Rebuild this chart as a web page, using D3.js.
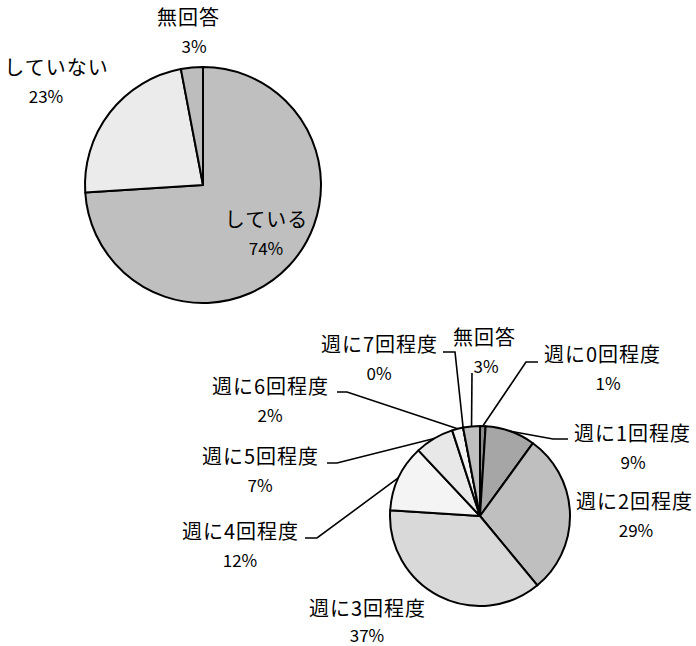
<!DOCTYPE html>
<html>
<head>
<meta charset="utf-8">
<script src="https://cdn.jsdelivr.net/npm/d3@7"></script>
<style>
  html, body { margin: 0; padding: 0; background: #fff; }
  svg { display: block; }
  text { font-family: "Noto Sans CJK JP", sans-serif; fill: #000; }
</style>
</head>
<body>
<svg id="chart" width="696" height="646"></svg>
<script>
// Top pie: whether the respondent does it
const topCategories = ["している", "していない", "無回答"];
const topValues = [74, 23, 3];
const topColors = ["#bfbfbf", "#ebebeb", "#bdbdbd"];

// Bottom pie: how many times per week
const bottomCategories = ["週に0回程度", "週に1回程度", "週に2回程度", "週に3回程度",
  "週に4回程度", "週に5回程度", "週に6回程度", "週に7回程度", "無回答"];
const bottomValues = [1, 9, 29, 37, 12, 7, 2, 0, 3];
const bottomColors = ["#8c8c8c", "#a6a6a6", "#bfbfbf", "#d9d9d9",
  "#f4f4f4", "#e8e8e8", "#f2f2f2", "#ffffff", "#bfbfbf"];

const svg = d3.select("#chart");
const pie = d3.pie().sort(null).value(d => d.value);

function drawPie(cfg) {
  const data = cfg.categories.map((c, i) => ({ name: c, value: cfg.values[i], color: cfg.colors[i] }));
  const arcs = pie(data);
  const g = svg.append("g").attr("transform", `translate(${cfg.cx},${cfg.cy})`);
  const arc = d3.arc().innerRadius(0).outerRadius(cfg.r);
  g.selectAll("path").data(arcs).join("path")
    .attr("d", arc)
    .attr("fill", d => d.data.color)
    .attr("stroke", "#000")
    .attr("stroke-width", 2)
    .attr("stroke-linejoin", "round");

  // Leader lines start on the rim at each slice's middle angle
  const rim = d3.arc().innerRadius(cfg.r).outerRadius(cfg.r);
  arcs.forEach((a, i) => {
    const lab = cfg.labels[i];
    if (lab.line) {
      const p = rim.centroid(a);
      const pts = [[p[0] + cfg.cx, p[1] + cfg.cy]].concat(lab.line);
      svg.append("path")
        .attr("d", d3.line()(pts))
        .attr("fill", "none")
        .attr("stroke", "#000")
        .attr("stroke-width", 1.6);
    }
    const t = svg.append("g");
    t.append("text").attr("x", lab.x + 0.5).attr("y", lab.y)
      .attr("text-anchor", "middle")
      .attr("font-size", 20)
      .attr("letter-spacing", 1)
      .text(a.data.name);
    t.append("text").attr("x", lab.px !== undefined ? lab.px : lab.x).attr("y", lab.y + (lab.gap || 28))
      .attr("text-anchor", "middle")
      .attr("font-size", 17)
      .text(Math.round(a.data.value) + "%");
  });
}

drawPie({
  categories: topCategories, values: topValues, colors: topColors,
  cx: 203, cy: 185, r: 118,
  labels: [
    { x: 266, y: 227 },
    { x: 56, y: 75, px: 46 },
    { x: 188, y: 25, px: 194 }
  ]
});

drawPie({
  categories: bottomCategories, values: bottomValues, colors: bottomColors,
  cx: 480, cy: 516, r: 90,
  labels: [
    { x: 602, y: 362, px: 608, line: [[526, 362], [538, 362]] },
    { x: 632, y: 441, px: 633, line: [[553, 439], [568, 439]] },
    { x: 634, y: 509, px: 636 },
    { x: 367, y: 616, px: 367, gap: 26 },
    { x: 240, y: 539, px: 240, line: [[317, 538], [305, 538]] },
    { x: 260, y: 464, px: 260, line: [[337, 463], [327, 463]] },
    { x: 270, y: 394, px: 270, line: [[347, 392], [337, 392]] },
    { x: 379, y: 352, px: 379, line: [[455, 352], [443, 352]] },
    { x: 484, y: 345, px: 486, line: [[472, 373]] }
  ]
});
</script>
</body>
</html>
